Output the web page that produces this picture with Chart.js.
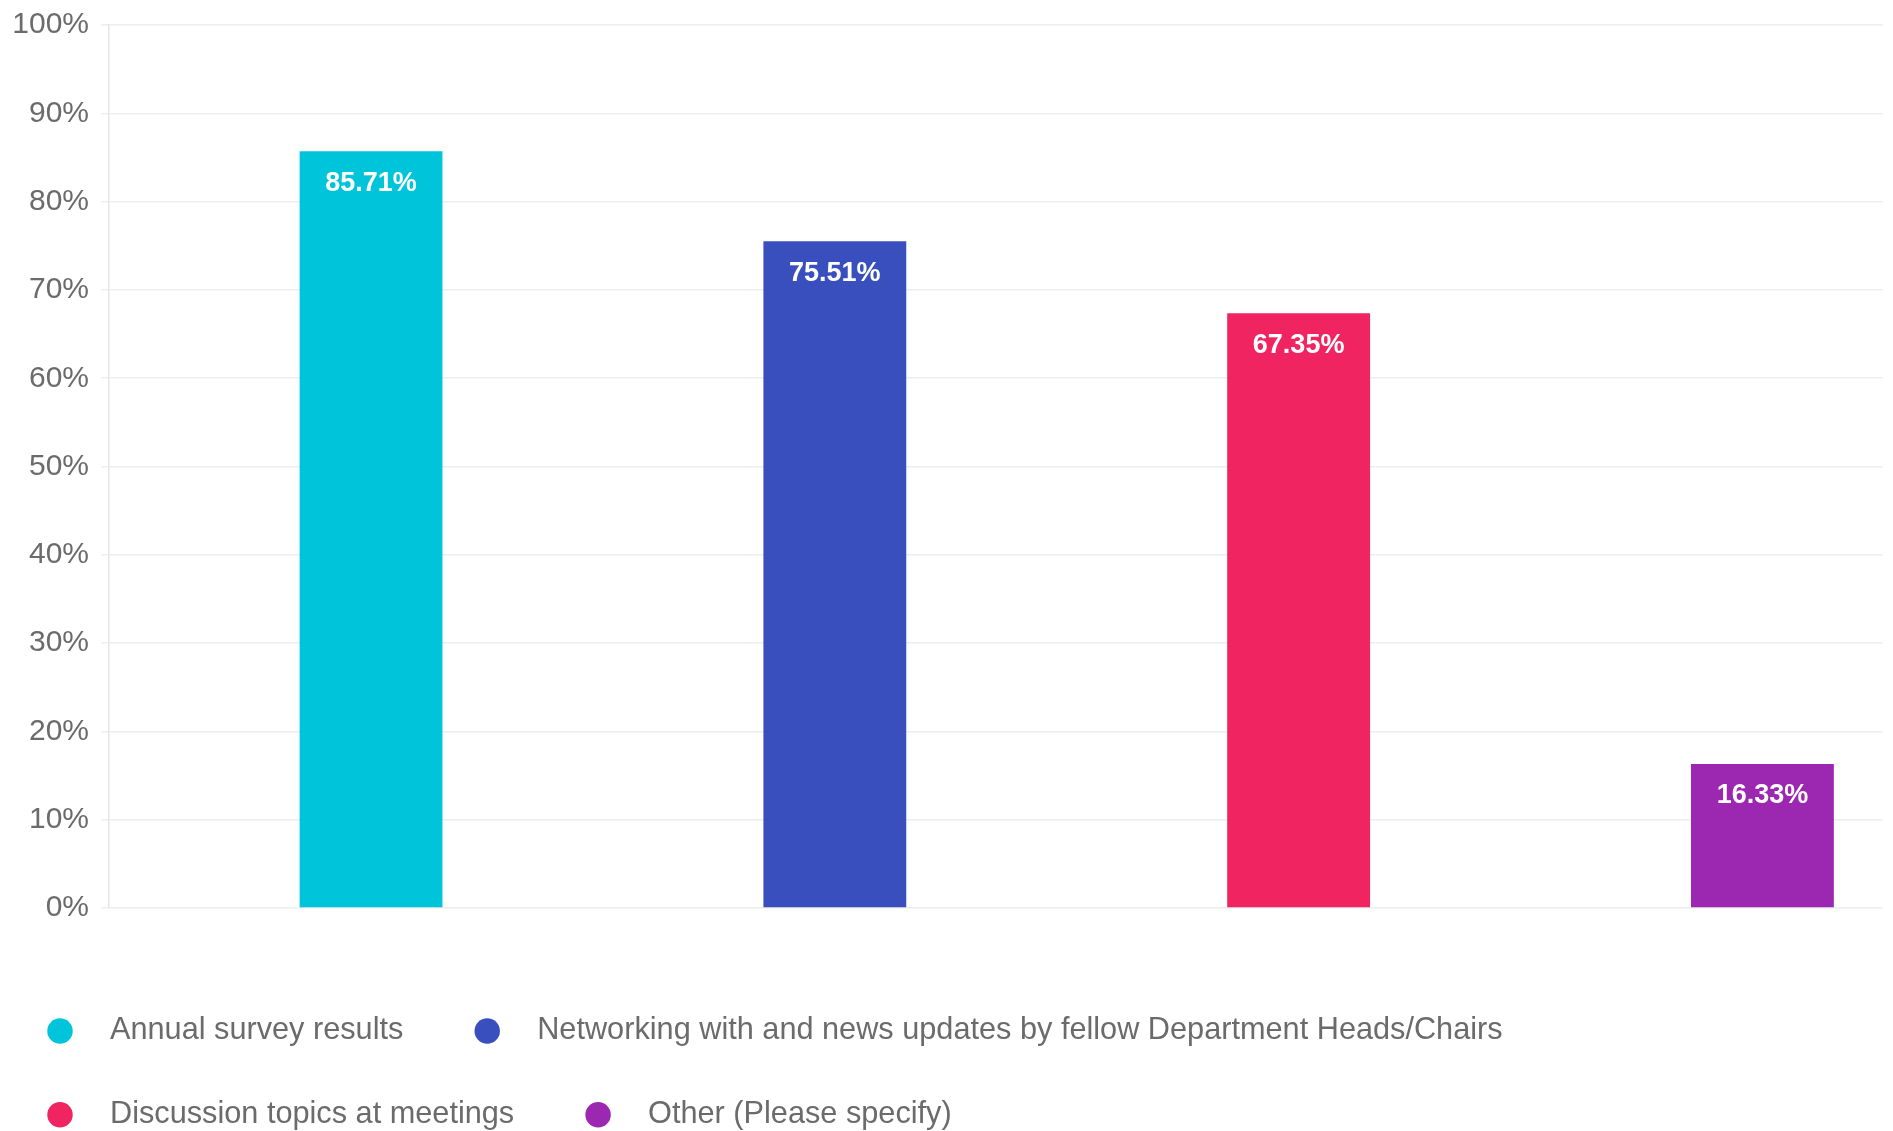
<!DOCTYPE html>
<html>
<head>
<meta charset="utf-8">
<script src="https://cdn.jsdelivr.net/npm/chart.js@4/dist/chart.umd.min.js"></script>
<style>
  html, body { margin: 0; padding: 0; background: #fff; overflow: hidden; }
  #wrap { position: relative; width: 1893px; height: 1140px; }
</style>
</head>
<body>
<div id="wrap"><canvas id="myChart"></canvas></div>
<script>
var categories = ['Annual survey results', 'Networking with and news updates by fellow Department Heads/Chairs', 'Discussion topics at meetings', 'Other (Please specify)'];
var values = [85.71, 75.51, 67.35, 16.33];
var barColors = ['#00c4da', '#3a4fbe', '#f02461', '#9c27b0'];
var yTicks = [0, 10, 20, 30, 40, 50, 60, 70, 80, 90, 100];

// white value labels drawn inside the top of each bar
var barLabels = {
    id: 'barLabels',
    afterDatasetsDraw: function(chart) {
        var ctx = chart.ctx;
        var meta = chart.getDatasetMeta(0);
        ctx.save();
        ctx.fillStyle = '#ffffff';
        ctx.font = 'bold 27px "Liberation Sans", Arial, sans-serif';
        ctx.textAlign = 'center';
        ctx.textBaseline = 'middle';
        meta.data.forEach(function(bar, i) {
            ctx.fillText(values[i].toFixed(2) + '%', bar.x, bar.y + 32);
        });
        ctx.restore();
    }
};

var ctx = document.getElementById('myChart').getContext('2d');
var myChart = new Chart(ctx, {
    type: 'bar',
    data: {
        datasets: [{
            data: categories.map(function(c, i) { return { x: i, y: values[i] }; }),
            backgroundColor: barColors,
            categoryPercentage: 1,
            barPercentage: 0.308
        }]
    },
    options: {
        responsive: true,
        maintainAspectRatio: false,
        animation: false,
        layout: { padding: { top: 25, right: 10, left: 0, bottom: 0 } },
        plugins: {
            tooltip: { enabled: false },
            legend: {
                position: 'bottom',
                align: 'start',
                labels: {
                    usePointStyle: true,
                    pointStyle: 'circle',
                    boxWidth: 14,
                    boxHeight: 18,
                    padding: 53,
                    color: '#6b6b6b',
                    font: { size: 30.7, family: '"Liberation Sans", Arial, sans-serif' },
                    generateLabels: function(chart) {
                        return categories.map(function(c, i) {
                            return {
                                text: '\u2002\u2009\u2009' + c + '\u2002 ',
                                fillStyle: barColors[i],
                                strokeStyle: barColors[i],
                                fontColor: '#6b6b6b',
                                lineWidth: 0,
                                pointStyle: 'circle',
                                hidden: false,
                                index: i
                            };
                        });
                    }
                }
            }
        },
        scales: {
            x: {
                type: 'linear',
                offset: false,
                min: -0.565,
                max: 3.26,
                grid: { display: false },
                border: { display: false },
                ticks: { display: false },
                afterBuildTicks: function(scale) {
                    scale.ticks = categories.map(function(c, i) { return { value: i }; });
                },
                afterFit: function(scale) { scale.height = 54.5; }
            },
            y: {
                min: 0,
                max: 100,
                afterBuildTicks: function(scale) {
                    scale.ticks = yTicks.map(function(v) { return { value: v }; });
                },
                grid: { color: '#ededed', lineWidth: 1.5, tickLength: 8 },
                border: { color: '#e6e6e6', width: 1.5 },
                ticks: {
                    padding: 12,
                    color: '#6b6b6b',
                    font: { size: 30, family: '"Liberation Sans", Arial, sans-serif' },
                    callback: function(v) { return v + '%'; }
                },
                afterFit: function(scale) {
                    scale.width = 109;
                    scale.paddingTop = 0;
                    scale.paddingBottom = 0;
                }
            }
        }
    },
    plugins: [barLabels]
});
</script>
</body>
</html>
